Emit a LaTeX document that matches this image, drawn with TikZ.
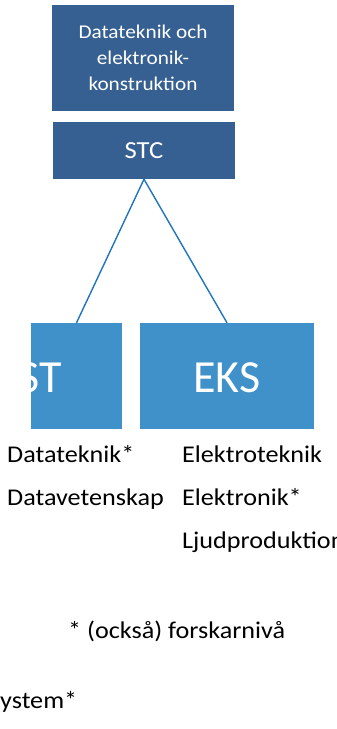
\documentclass[tikz,border=0pt]{standalone}
\usepackage{fontspec}
\setmainfont{Carlito}[FakeStretch=1.09]
\newfontfamily\plainfont{Carlito}
\definecolor{DarkBox}{RGB}{55,96,146}
\definecolor{LightBox}{RGB}{64,145,201}
\definecolor{LinkBlue}{RGB}{30,117,190}

\begin{document}
\begin{tikzpicture}[x=1pt,y=-1pt,
    darkbox/.style={fill=DarkBox, text=white, inner sep=0pt, minimum width=182pt, align=center},
    lightbox/.style={fill=LightBox, inner sep=0pt, minimum height=105.5pt},
    boxtext/.style={text=white, inner sep=0pt, font=\plainfont\fontsize{46}{50}\selectfont},
    link/.style={LinkBlue, line width=1.4pt},
    label/.style={anchor=base west, inner sep=0pt, font=\fontsize{24}{30}\selectfont}]
        \useasboundingbox (0,0) rectangle (337,729);
        \clip (0,0) rectangle (337,729);

        % top of the tree
        \node[darkbox, minimum height=106pt, font=\fontsize{19.5}{26}\selectfont] (dept) at (143,58)
            {Datateknik och\\elektronik-\\konstruktion};
        \node[darkbox, minimum height=57pt, font=\fontsize{24.5}{26}\selectfont] (stc) at (144,150.5) {STC};

        % the two branches
        \node[lightbox, minimum width=91pt] (st) at (76.5,375.75) {};
        \node[lightbox, minimum width=174pt] (eks) at (227,375.75) {};
        \begin{scope}
            \clip (31,323) rectangle (122,428.5);
            \node[boxtext, anchor=base east] (sttext) at (62,392) {ST};
        \end{scope}
        \node[boxtext, anchor=base] (ekstext) at (227,392) {EKS};

        \draw[link] (stc.south) -- (st.north);
        \draw[link] (stc.south) -- (eks.north);

        % subjects
        \node[label] (dt) at (7,462.5) {Datateknik*};
        \node[label] (dv) at (7,505.5) {Datavetenskap};
        \node[label] (et) at (182,462.5) {Elektroteknik};
        \node[label] (el) at (182,505.5) {Elektronik*};
        \node[label] (lp) at (182,548) {Ljudproduktion};

        \node[label] (note) at (68,638) {* (också) forskarnivå};
        \node[label] (sys) at (0,708) {ystem*};
    \end{tikzpicture}
\end{document}
